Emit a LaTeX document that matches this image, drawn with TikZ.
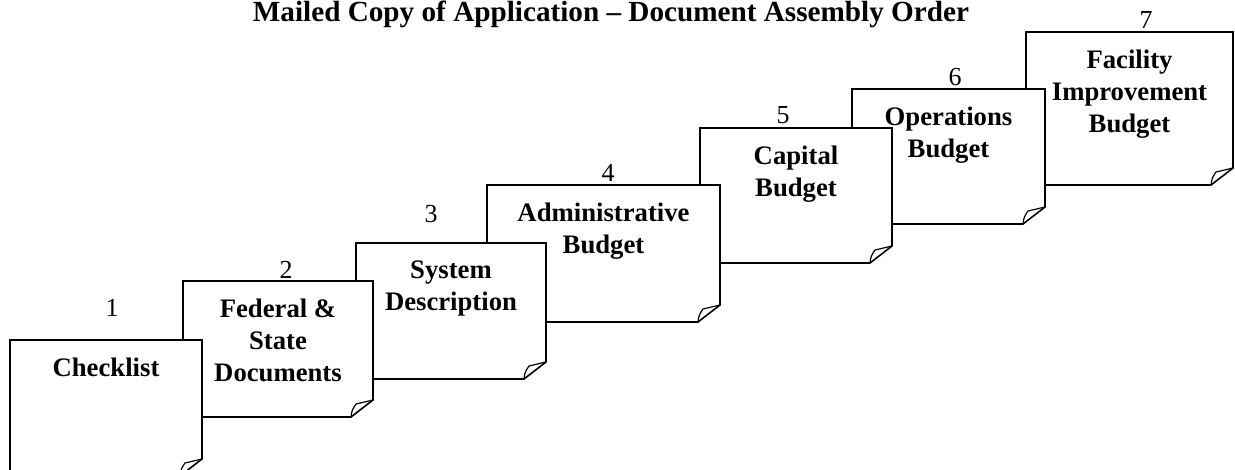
\documentclass[tikz,border=0pt]{standalone}
\usepackage{fontspec}
\setmainfont{Liberation Serif}
\tikzset{
  pagebox/.style={draw=black, fill=white, line width=1.6pt, line join=miter},
  flap/.style={draw=black, line width=1.2pt, line join=round},
  pagetext/.style={font=\bfseries\fontsize{26.7}{32}\selectfont, align=center, anchor=north, inner sep=0pt},
  numtext/.style={font=\fontsize{26}{30}\selectfont, inner sep=0pt},
  titletext/.style={font=\bfseries\fontsize{29.2}{32}\selectfont, inner sep=0pt, anchor=base}
}
\newcommand\docpage[9]{%
  \draw[pagebox] (#2,#3) -- (#4,#3) -- (#4,{#5-17}) -- ({#4-22},#5) -- (#2,#5) -- cycle;
  \draw[flap] ({#4-22},#5) .. controls ({#4-21},{#5-7}) .. ({#4-17},{#5-13}) -- (#4,{#5-17});
  \node[pagetext] (#1) at ({(#2+#4)/2},{#3+17.5}) {#6};
  \node[numtext] (#1num) at (#8,#9) {#7};
}
\begin{document}
\begin{tikzpicture}[x=1pt,y=-1pt]
  \useasboundingbox (0,0) rectangle (1235,469);
  \clip (0,0) rectangle (1235,469);
  \node[titletext] (title) at (611,21) {Mailed Copy of Application -- Document Assembly Order};
  \docpage{p7}{1026}{32}{1233}{185}{Facility\\Improvement\\Budget}{7}{1146}{20}
  \docpage{p6}{852}{89}{1045}{224}{Operations\\Budget}{6}{955}{77}
  \docpage{p5}{700}{128}{892}{263}{Capital\\Budget}{5}{783}{115}
  \docpage{p4}{487}{185}{720}{322}{Administrative\\Budget}{4}{608}{173}
  \docpage{p3}{356}{243}{546}{379}{System\\Description}{3}{431}{214}
  \docpage{p2}{183}{281}{373}{417}{Federal \&\\State\\Documents}{2}{286}{270}
  \docpage{p1}{10}{340}{202}{476}{Checklist}{1}{112}{308}
\end{tikzpicture}
\end{document}
